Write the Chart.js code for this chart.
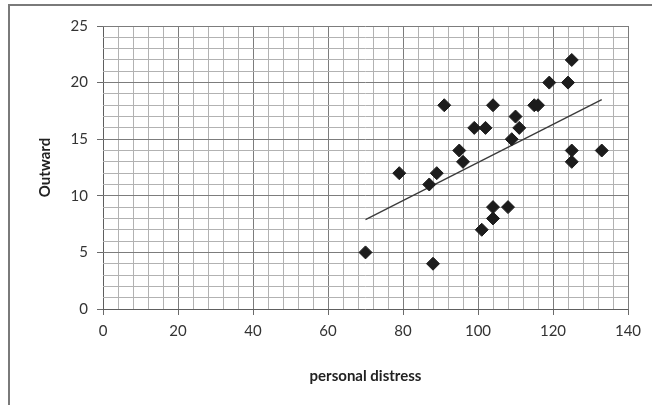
<!DOCTYPE html>
<html>
<head>
<meta charset="utf-8">
<script src="https://cdn.jsdelivr.net/npm/chart.js@4.4.1/dist/chart.umd.min.js"></script>
<style>
  html, body { margin: 0; padding: 0; background: #fff; overflow: hidden; }
  #wrap { position: relative; width: 652px; height: 405px; }
  #frame { position: absolute; left: 8px; top: 4px; width: 700px; height: 500px; border: 2px solid #7a7a7a; pointer-events: none; }
  canvas { position: absolute; left: 0; top: 0; }
</style>
</head>
<body>
<div id="wrap">
  <div id="frame"></div>
  <canvas id="scatter" width="652" height="405"></canvas>
</div>
<script>
// personal distress (x) vs Outward (y)
const distress = [70, 79, 88, 87, 89, 91, 95, 96, 99, 101, 102, 104, 104, 104, 108, 109, 110, 111, 115, 116, 119, 124, 125, 125, 125, 133];
const outward  = [5, 12, 4, 11, 12, 18, 14, 13, 16, 7, 16, 18, 9, 8, 9, 15, 17, 16, 18, 18, 20, 20, 22, 14, 13, 14];

// linear trend line end points
const trendX = [70, 133];
const trendY = [7.9, 18.5];

const xTicks = [0, 20, 40, 60, 80, 100, 120, 140];
const yTicks = [0, 5, 10, 15, 20, 25];

const font = "Lato, 'Liberation Sans', sans-serif";

function gridColor(majors) {
  return (c) => {
    const v = c.tick ? c.tick.value : null;
    if (v === 0) return '#5e5e5e';
    return majors.includes(v) ? '#7c7c7c' : '#b2b2b2';
  };
}
function tickColor(majors) {
  return (c) => (c.tick && majors.includes(c.tick.value)) ? '#6a6a6a' : 'rgba(0,0,0,0)';
}

const ctx = document.getElementById('scatter').getContext('2d');

new Chart(ctx, {
  type: 'scatter',
  data: {
    datasets: [
      {
        label: 'Outward',
        data: distress.map((x, i) => ({ x: x, y: outward[i] })),
        pointStyle: 'rectRot',
        pointRadius: 6.5,
        backgroundColor: '#1c1c1c',
        borderColor: '#1c1c1c',
        borderWidth: 1,
      },
      {
        type: 'line',
        label: 'Linear',
        data: trendX.map((x, i) => ({ x: x, y: trendY[i] })),
        borderColor: '#3a3a3a',
        borderWidth: 1.3,
        pointRadius: 0,
        fill: false,
      },
    ],
  },
  options: {
    responsive: false,
    animation: false,
    layout: { padding: { top: 26, right: 24, left: 0, bottom: 0 } },
    plugins: {
      legend: { display: false },
      tooltip: { enabled: false },
    },
    scales: {
      x: {
        type: 'linear',
        min: 0,
        max: 140,
        afterFit: (s) => { s.height = 96; },
        ticks: {
          stepSize: 4,
          autoSkip: false,
          maxRotation: 0,
          padding: 7,
          color: '#333333',
          font: { family: font, size: 15 },
          callback: (v) => (xTicks.includes(v) ? String(v) : ''),
        },
        grid: {
          color: gridColor(xTicks),
          tickColor: tickColor(xTicks),
          tickLength: 6,
          lineWidth: 1,
        },
        border: { display: false },
        title: {
          display: true,
          text: 'personal distress',
          color: '#222222',
          font: { family: font, size: 15, weight: 'bold' },
          padding: { top: 0, bottom: 20 },
        },
      },
      y: {
        type: 'linear',
        min: 0,
        max: 25,
        afterFit: (s) => { s.width = 103; },
        ticks: {
          stepSize: 1,
          autoSkip: false,
          padding: 9,
          color: '#333333',
          font: { family: font, size: 15 },
          callback: (v) => (yTicks.includes(v) ? String(v) : ''),
        },
        grid: {
          color: gridColor(yTicks),
          tickColor: tickColor(yTicks),
          tickLength: 6,
          lineWidth: 1,
        },
        border: { display: false },
        title: {
          display: true,
          text: 'Outward',
          color: '#222222',
          font: { family: font, size: 15, weight: 'bold' },
          padding: { top: 36, bottom: 0 },
        },
      },
    },
  },
});
</script>
</body>
</html>
